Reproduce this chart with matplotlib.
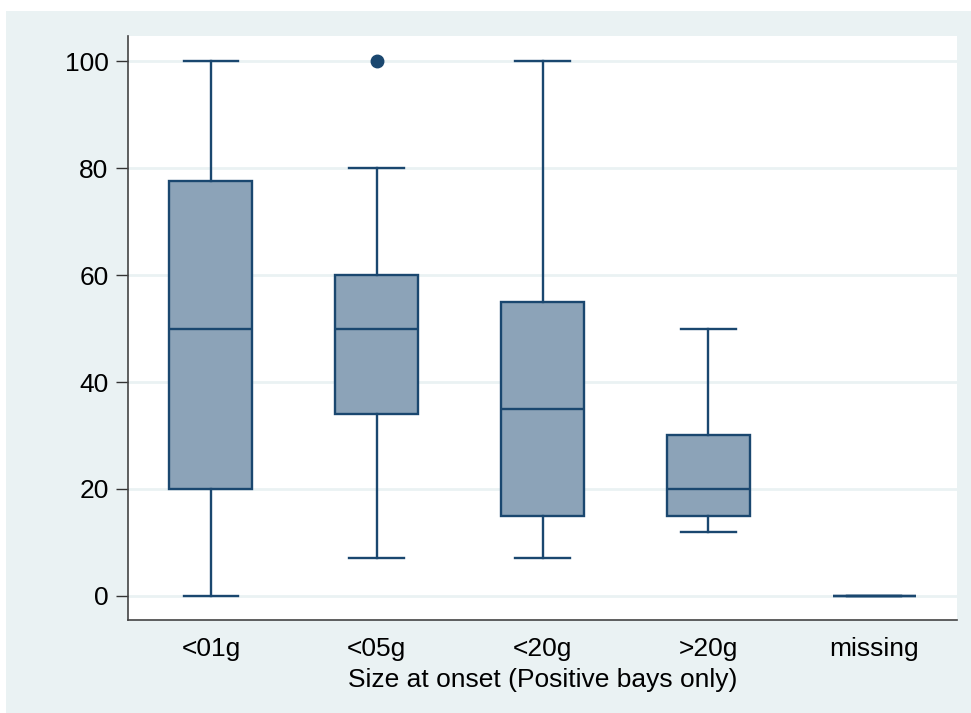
import matplotlib
matplotlib.use("Agg")
import matplotlib.pyplot as plt
from matplotlib.patches import Rectangle

categories = ["<01g", "<05g", "<20g", ">20g", "missing"]
whislo = [0, 7, 7, 12, 0]
q1 = [20, 34, 15, 15, 0]
med = [50, 50, 35, 20, 0]
q3 = [77.5, 60, 55, 30, 0]
whishi = [100, 80, 100, 50, 0]
fliers = [[], [100], [], [], []]
yticks = [0, 20, 40, 60, 80, 100]
xlabel = "Size at onset (Positive bays only)"

navy = "#1A476F"
fill = "#8CA3B8"
outer = "#EAF2F3"

plt.rcParams['font.family'] = ['Liberation Sans', 'DejaVu Sans']

W, H = 971, 713
fig = plt.figure(figsize=(W / 100, H / 100), dpi=100)
fig.patch.set_facecolor("white")
bg = Rectangle((6 / W, 0), 1 - 6 / W, 1 - 11 / H, transform=fig.transFigure,
               facecolor=outer, edgecolor="none", zorder=-10)
fig.add_artist(bg)

ax = fig.add_axes([128 / W, 1 - 620 / H, (957 - 128) / W, (620 - 36) / H])
ax.set_zorder(1)
ax.set_facecolor("white")

stats = []
for i, c in enumerate(categories):
    stats.append(dict(label=c, whislo=whislo[i], q1=q1[i], med=med[i], q3=q3[i],
                      whishi=whishi[i], fliers=fliers[i]))

positions = list(range(1, len(categories) + 1))
lw = 1.7
ax.bxp(stats, positions=positions, widths=0.5, patch_artist=True, showfliers=True,
       boxprops=dict(facecolor=fill, edgecolor=navy, linewidth=lw),
       medianprops=dict(color=navy, linewidth=lw),
       whiskerprops=dict(color=navy, linewidth=lw),
       capprops=dict(color=navy, linewidth=lw),
       capwidths=0.33,
       flierprops=dict(marker="o", markerfacecolor=navy, markeredgecolor=navy, markersize=9),
       zorder=3)

fs = 19
ax.set_xlim(0.5, 5.5)
ax.set_ylim(-4.5, 104.7)
ax.set_yticks(yticks)
ax.set_yticklabels([str(v) for v in yticks])
ax.set_xticks(positions)
ax.set_xticklabels(categories)
ax.tick_params(axis="y", length=9, width=1, color="#333333", labelsize=fs, pad=5)
ax.tick_params(axis="x", length=0, labelsize=fs, pad=12)
ax.set_xlabel(xlabel, fontsize=fs, labelpad=5)
ax.grid(axis="y", color=outer, linewidth=2, zorder=0)
ax.set_axisbelow(True)
for s in ["top", "right"]:
    ax.spines[s].set_visible(False)
for s in ["left", "bottom"]:
    ax.spines[s].set_color("#444444")
    ax.spines[s].set_linewidth(1.2)

fig.savefig("out.png", dpi=100)
